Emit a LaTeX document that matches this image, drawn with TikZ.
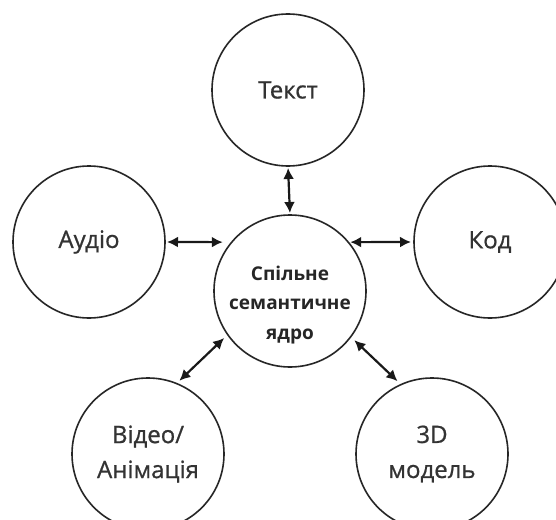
\documentclass[tikz,border=0pt]{standalone}
\usepackage{fontspec}
\setmainfont{Open Sans}
\newfontfamily\labelfont[FakeBold=0.8]{Open Sans}
\usepackage{tikz}
\usetikzlibrary{arrows.meta}
\newcommand{\bubble}[4]{\node[shape=circle,draw=black!85,fill=white,line width=1.6pt,inner sep=0pt,outer sep=0pt,minimum size=152pt,align=center,text=black!80,font=\labelfont\fontsize{24}{35}\selectfont] (#1) at ( #2 , #3 ) {#4};}
\newcommand{\link}[4]{\draw[line width=2.2pt,draw=black!90,{Latex[length=11pt,width=11pt]}-{Latex[length=11pt,width=11pt]},shorten <=#3pt,shorten >=#4pt] (#1) -- (#2);}

\begin{document}
\begin{tikzpicture}[x=1pt,y=-1pt]
    \clip (0,0) rectangle (556,519);
    \useasboundingbox (0,0) rectangle (556,519);
    % outer ring
    \bubble{tekst}{288}{90}{Текст}
    \bubble{audio}{89}{242}{Аудіо}
    \bubble{kod}{490}{242}{Код}
    \bubble{video}{148}{454}{Відео/\\Анімація}
    \bubble{model}{432}{454}{3D\\модель}
    % core
    \node[shape=circle,draw=black!85,fill=white,line width=1.6pt,inner sep=0pt,outer sep=0pt,minimum size=152pt,
      label={[yshift=-14pt,align=center,text=black!85,font=\bfseries\fontsize{19}{29.5}\selectfont]center:Спільне\\семантичне\\ядро}] (core) at (290,291) {};

    % links
    \link{tekst.south}{core.north}{2}{2}
    \link{audio.east}{core.140}{2}{9}
    \link{core.40}{kod.west}{2}{3}
    \link{video.68}{core.215}{4}{5}
    \link{core.323}{model.114}{5}{5}
\end{tikzpicture}
\end{document}
